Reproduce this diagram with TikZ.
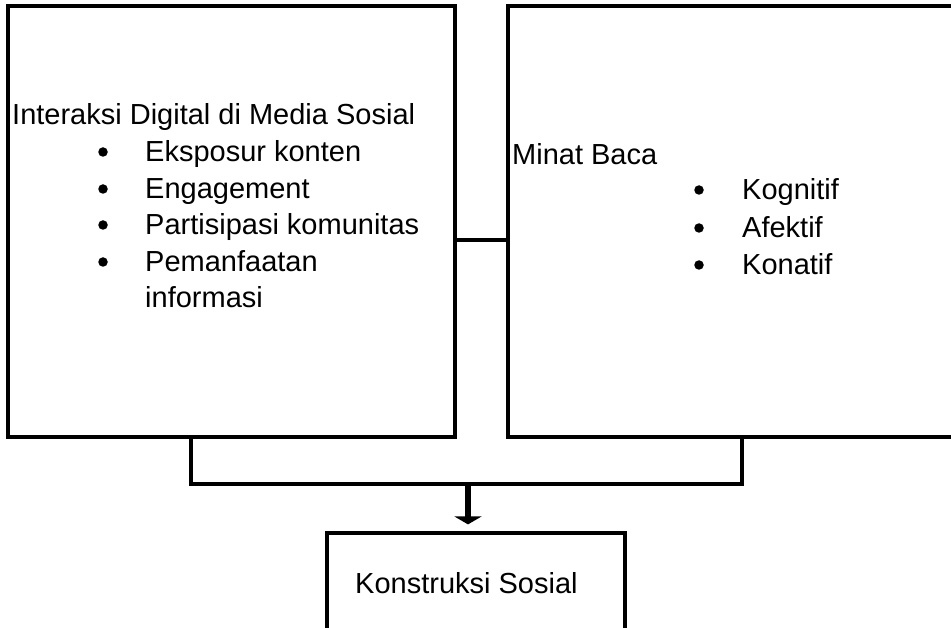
\documentclass[tikz,border=0pt]{standalone}
\usepackage{fontspec}
\setmainfont{Liberation Sans}
\usetikzlibrary{arrows.meta,calc}
\begin{document}
\begin{tikzpicture}[x=1pt,y=-1pt,
  boxline/.style={draw=black,line width=3.2pt,line join=miter},
  txt/.style={inner sep=0pt,anchor=base west,font=\fontsize{29}{35}\selectfont},
  bul/.style={circle,fill=black,inner sep=0pt,minimum size=9.5pt},
  link/.style={draw=black,line width=3.2pt,line join=miter},
  flow/.style={draw=black,line width=5.5pt,-{Triangle[width=27pt,length=8pt]}}]
\useasboundingbox (0,0) rectangle (951,628);
% boxes
\node[boxline,minimum width=447pt,minimum height=431pt,inner sep=0pt] (lbox) at (231.5,221.5) {};
\node[boxline,minimum width=460pt,minimum height=431pt,inner sep=0pt] (rbox) at (738,221.5) {};
\node[boxline,minimum width=298pt,minimum height=120pt,inner sep=0pt] (kbox) at (476,593) {};
% left text
\node[txt] (t0) at (12,125) {Interaksi Digital di Media Sosial};
\node[bul] (b1) at (103,152) {};
\node[txt] (t1) at (145,162) {Eksposur konten};
\node[bul] (b2) at (103,189) {};
\node[txt] (t2) at (145,199) {Engagement};
\node[bul] (b3) at (103,225) {};
\node[txt] (t3) at (145,235) {Partisipasi komunitas};
\node[bul] (b4) at (103,262) {};
\node[txt] (t4) at (145,272) {Pemanfaatan};
\node[txt] (t5) at (145,308) {informasi};
% right text
\node[txt] (r0) at (512,165) {Minat Baca};
\node[bul] (rb1) at (699,190) {};
\node[txt] (r1) at (742,200) {Kognitif};
\node[bul] (rb2) at (699,228) {};
\node[txt] (r2) at (742,238) {Afektif};
\node[bul] (rb3) at (699,265) {};
\node[txt] (r3) at (742,275) {Konatif};
% bottom text
\node[txt] (k0) at (355,593) {Konstruksi Sosial};
% connectors
\coordinate (mid) at (480,240);
\draw[link] (mid -| lbox.east) -- (mid -| rbox.west);
\coordinate (bl) at (191,484);
\coordinate (br) at (742,484);
\coordinate (ar) at (468,484);
\draw[link] (bl |- lbox.south) -- (bl) -- (br) -- (br |- rbox.south);
\draw[flow,shorten >=7pt] (ar) -- (ar |- kbox.north);
\end{tikzpicture}
\end{document}
